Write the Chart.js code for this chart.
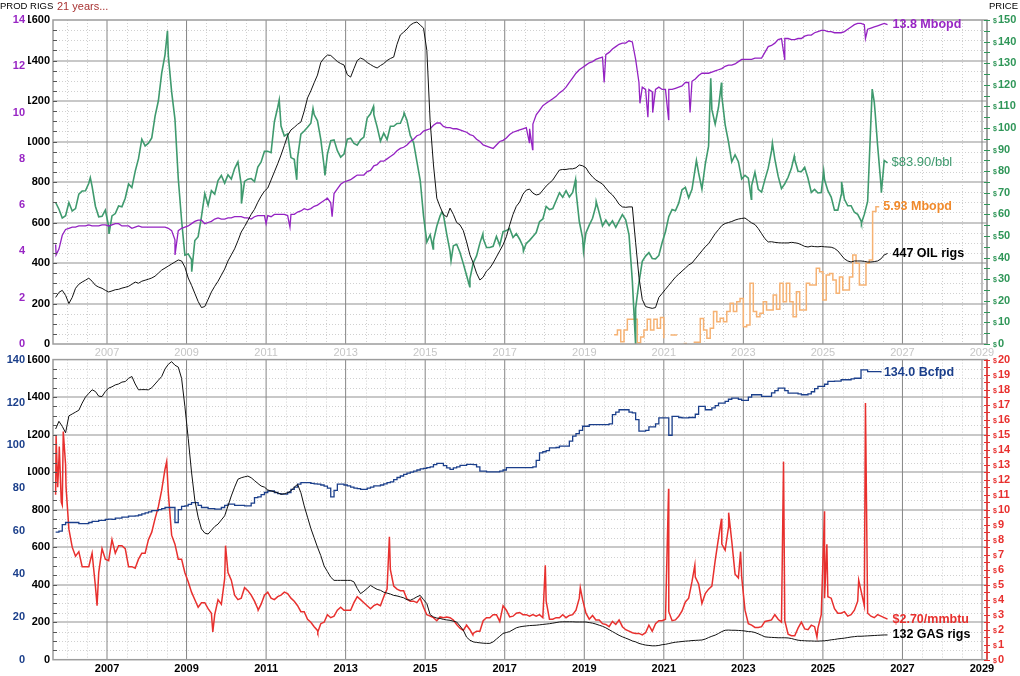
<!DOCTYPE html>
<html>
<head>
<meta charset="utf-8">
<script src="https://cdn.jsdelivr.net/npm/chart.js@4.4.1/dist/chart.umd.min.js"></script>
<style>
  body { margin: 0; background: #fff; }
  #wrap { position: relative; width: 1020px; height: 676px; overflow: hidden; font-family: "Liberation Sans", Arial, sans-serif; }
  #wrap canvas { position: absolute; left: 0; }
  #cTop { top: 0; }
  #cBot { top: 350px; }
  .hdr { position: absolute; top: 0; font-size: 9.5px; line-height: 12px; color: #000; }
</style>
</head>
<body>
<div id="wrap">
  <canvas id="cTop" width="1020" height="358" style="width:1020px;height:358px"></canvas>
  <canvas id="cBot" width="1020" height="326" style="width:1020px;height:326px"></canvas>
  <div class="hdr" style="left:0">PROD RIGS</div>
  <div class="hdr" style="left:57px;font-size:11px;color:#a83232">21 years...</div>
  <div class="hdr" style="right:2px">PRICE</div>
</div>
<script>
// ---- axis ticks ----
const yearTicks = [2007, 2009, 2011, 2013, 2015, 2017, 2019, 2021, 2023, 2025, 2027, 2029];
const rigTicks = [0, 200, 400, 600, 800, 1000, 1200, 1400, 1600];
const oilProdTicks = [0, 2, 4, 6, 8, 10, 12, 14];
const gasProdTicks = [0, 20, 40, 60, 80, 100, 120, 140];
const oilPriceTicks = [0, 10, 20, 30, 40, 50, 60, 70, 80, 90, 100, 110, 120, 130, 140, 150];
const gasPriceTicks = [0, 1, 2, 3, 4, 5, 6, 7, 8, 9, 10, 11, 12, 13, 14, 15, 16, 17, 18, 19, 20];

// ---- monthly series, Sep 2005 onward (one row per year) ----
const oilPrice = [65.5, 62.4, 58.3, 59.4,
  65.5, 61.6, 62.7, 69.4, 70.8, 70.9, 74.4, 73.0, 63.8, 58.9, 59.1, 62.0,
  54.5, 59.3, 60.4, 63.9, 63.5, 67.5, 74.1, 72.4, 79.9, 85.8, 94.8, 91.7,
  93.0, 95.4, 105.5, 112.6, 125.4, 133.9, 133.4, 116.7, 104.1, 76.6, 57.3, 41.1,
  41.7, 39.1, 47.9, 49.7, 59.0, 69.6, 64.2, 71.0, 69.4, 75.7, 78.0, 74.5,
  78.3, 76.4, 81.2, 84.3, 73.7, 75.3, 76.3, 76.6, 75.2, 81.9, 84.3, 89.2,
  89.2, 88.6, 102.9, 109.5, 100.9, 96.3, 97.3, 86.3, 85.5, 86.3, 97.2, 98.6,
  100.3, 102.2, 106.2, 103.3, 94.7, 82.3, 87.9, 94.1, 94.5, 89.5, 86.5, 87.9,
  94.8, 95.3, 92.9, 92.0, 94.5, 95.8, 104.6, 106.6, 106.3, 100.5, 93.9, 97.6,
  94.6, 100.8, 100.8, 102.1, 102.2, 105.8, 103.6, 96.5, 93.2, 84.4, 75.8, 59.3,
  47.2, 50.6, 47.8, 54.5, 59.3, 59.8, 50.9, 42.9, 45.5, 46.2, 42.4, 37.2,
  31.7, 30.3, 37.5, 40.8, 46.7, 48.8, 44.7, 44.7, 45.2, 49.8, 45.7, 52.0,
  52.5, 53.5, 49.3, 51.1, 48.5, 45.2, 46.6, 48.0, 49.8, 51.6, 56.6, 57.9,
  63.7, 62.2, 62.7, 66.3, 70.0, 67.9, 71.0, 68.1, 70.2, 70.8, 56.7, 49.0,
  51.4, 55.0, 58.2, 63.9, 60.8, 54.7, 57.4, 54.8, 57.0, 54.0, 57.0, 59.9,
  57.5, 50.5, 29.2, 16.6, 28.5, 38.3, 40.7, 42.3, 39.6, 39.4, 41.0, 47.0,
  52.0, 59.0, 62.3, 61.7, 65.2, 71.4, 72.5, 67.7, 71.6, 81.5, 79.2, 71.7,
  83.2, 91.6, 108.5, 101.8, 109.6, 114.8, 101.6, 93.7, 84.3, 87.6, 84.4, 76.4,
  78.1, 76.8, 73.3, 79.5, 71.6, 70.3, 76.1, 81.4, 89.4, 85.6, 77.7, 71.9,
  74.2, 77.2, 81.3, 85.4, 80.0, 79.8, 81.8, 76.7, 70.2, 71.6, 69.9, 70.1,
  76, 71, 68, 62, 62, 69, 67, 64, 64, 61, 60, 57,
  60, 66, 104, 112, 92, 74, 85, 83.9];
// intra-month highs / lows visible in the daily trace [year, $]
const oilPriceExtremes = [[2006.58, 77], [2007.05, 51], [2008.52, 145], [2009.13, 33.5], [2010.38, 65],
  [2011.33, 113], [2011.77, 76], [2012.18, 109], [2012.48, 78], [2013.7, 110], [2014.47, 107],
  [2015.2, 44], [2015.42, 61], [2015.65, 38.5], [2016.12, 26.5], [2016.45, 51], [2017.47, 43],
  [2018.78, 76], [2018.98, 43], [2019.3, 66], [2020.29, 0], [2021.82, 85], [2022.18, 123],
  [2022.45, 121], [2023.2, 67], [2023.73, 93], [2024.28, 87], [2025.02, 80], [2025.47, 75],
  [2025.97, 56], [2026.24, 118], [2026.31, 108], [2026.47, 70]];

const oilProd = [4.3, 4.1, 4.7, 4.95,
  5.0, 5.05, 5.05, 5.1, 5.1, 5.1, 5.15, 5.1, 5.1, 5.1, 5.15, 5.15,
  5.1, 5.15, 5.2, 5.2, 5.1, 5.1, 5.1, 5.0, 5.05, 5.1, 5.05, 5.05,
  5.05, 5.05, 5.05, 5.05, 5.05, 5.05, 5.0, 4.9, 4.5, 4.9, 5.0, 5.05,
  5.1, 5.2, 5.3, 5.35, 5.35, 5.2, 5.25, 5.3, 5.4, 5.45, 5.4, 5.4,
  5.45, 5.45, 5.5, 5.5, 5.5, 5.45, 5.45, 5.4, 5.5, 5.55, 5.55, 5.55,
  5.55, 5.5, 5.6, 5.6, 5.6, 5.6, 5.55, 5.6, 5.6, 5.7, 5.75, 5.85,
  5.8, 5.85, 5.95, 6.0, 6.1, 6.2, 6.3, 6.1, 6.5, 6.7, 6.9, 7.0,
  7.05, 7.1, 7.2, 7.3, 7.3, 7.3, 7.45, 7.5, 7.7, 7.75, 7.9, 7.9,
  8.0, 8.1, 8.2, 8.35, 8.45, 8.5, 8.6, 8.75, 8.85, 9.0, 9.05, 9.2,
  9.25, 9.3, 9.45, 9.55, 9.55, 9.4, 9.35, 9.35, 9.3, 9.3, 9.25, 9.2,
  9.15, 9.05, 9.0, 8.85, 8.75, 8.6, 8.55, 8.5, 8.45, 8.6, 8.75, 8.8,
  8.9, 9.05, 9.15, 9.2, 9.25, 9.3, 9.35, 9.3, 9.5, 9.9, 10.1, 10.3,
  10.4, 10.5, 10.6, 10.7, 10.85, 10.95, 11.1, 11.3, 11.5, 11.7, 11.85, 11.95,
  12.05, 12.15, 12.2, 12.3, 12.35, 12.4, 12.5, 12.6, 12.75, 12.85, 12.95, 13.0,
  13.0, 13.1, 13.05, 12.3, 11.3, 11.1, 11.0, 11.0, 10.9, 11.0, 11.1, 11.0,
  11.0, 11.0, 11.0, 11.05, 11.1, 11.15, 11.3, 11.3, 11.35, 11.45, 11.6, 11.7,
  11.7, 11.7, 11.75, 11.8, 11.85, 11.9, 12.0, 12.05, 12.05, 12.1, 12.2, 12.3,
  12.3, 12.3, 12.3, 12.35, 12.35, 12.35, 12.6, 12.85, 12.9, 13.0, 13.15, 13.2,
  13.2, 13.2, 13.15, 13.15, 13.2, 13.2, 13.3, 13.35, 13.35, 13.45, 13.5, 13.55,
  13.55, 13.5, 13.5, 13.45, 13.45, 13.45, 13.5, 13.6, 13.7, 13.8, 13.85, 13.85,
  13.8, 13.6, 13.65, 13.7, 13.75, 13.8, 13.85, 13.8];
// weekly outages (storms, freezes) [year, Mbopd]
const oilProdDips = [[2005.72, 3.85], [2008.71, 3.85], [2011.0, 5.2], [2011.6, 5.05], [2012.66, 5.5],
  [2017.62, 8.7], [2017.7, 8.4], [2019.5, 11.3], [2020.4, 10.4], [2020.6, 9.8], [2020.72, 10.0],
  [2021.12, 9.7], [2021.66, 10.0], [2024.04, 12.3], [2026.07, 13.2]];

const oilRigs = [230, 255, 265, 240,
  200, 230, 275, 295, 306, 315, 325, 310, 290, 281, 275, 265,
  257, 262, 268, 270, 276, 280, 285, 295, 306, 300, 310, 315,
  320, 326, 335, 350, 365, 375, 385, 395, 405, 415, 410, 380,
  326, 290, 250, 210, 180, 185, 220, 257, 285, 310, 340, 370,
  410, 440, 470, 510, 553, 580, 610, 640, 665, 700, 730, 755,
  770, 810, 850, 890, 933, 980, 1030, 1057, 1070, 1085, 1096, 1150,
  1215, 1250, 1290, 1328, 1390, 1412, 1427, 1425, 1410, 1395, 1385, 1378,
  1330, 1318, 1360, 1400, 1412, 1405, 1390, 1380, 1370, 1363, 1375, 1385,
  1400, 1410, 1417, 1480, 1526, 1540, 1555, 1575, 1585, 1590, 1575, 1560,
  1450, 1100, 884, 720, 677, 640, 627, 671, 640, 600, 588, 560,
  504, 440, 400, 350, 316, 330, 360, 375, 400, 430, 460, 490,
  530, 588, 640, 680, 701, 740, 760, 765, 745, 736, 740, 760,
  780, 795, 810, 835, 859, 862, 862, 865, 865, 870, 884, 880,
  870, 844, 825, 810, 800, 790, 770, 750, 736, 715, 690, 677,
  675, 677, 677, 500, 330, 220, 185, 180, 176, 180, 230, 250,
  270, 290, 310, 330, 345, 360, 375, 390, 400, 420, 440, 460,
  480, 495, 520, 545, 565, 585, 595, 600, 605, 612, 617, 620,
  622, 610, 598, 590, 570, 545, 520, 504, 505, 502, 500, 499,
  499, 499, 502, 500, 497, 490, 482, 479, 483, 481, 480, 482,
  480, 479, 478, 472, 460, 440, 420, 410, 405, 410, 410, 410,
  408, 405, 405, 407, 410, 420, 440, 447];

// orange stepped series, monthly from Oct 2019 (Mbopd, left scale)
const orangeProd = [0.4, 0.6, 0.1, 0.6, 1.07, 1.07, 1.07, 0.05, 0.3, 0.6,
  1.07, 0.6, 1.07, 0.68, 1.14, 0.25, null, 0.39, 0.39, 0.39,
  null, 0.02, 0.02, null, 0.08, 0.08, 1.1, 0.6, 0.25, 0.68,
  1.4, 0.96, 1.11, 0.96, 1.4, 1.76, 1.4, 1.83, 1.97, 0.75,
  0.82, 2.62, 1.4, 1.18, 1.33, 1.83, 1.47, 1.47, 2.12, 1.5,
  2.62, 1.83, 2.62, 1.83, 1.18, 2.26, 1.47, 1.47, 2.62, 2.55,
  2.55, 3.27, 3.12, 1.9, 2.98, 3.05, 2.77, 2.19, 2.9, 2.33,
  2.33, 2.9, 3.85, 3.49, 2.55, 2.55, 3.49, 3.63, 5.72, 5.93, 5.93];

const gasRigs = [1230, 1271, 1244, 1210,
  1300, 1310, 1320, 1330, 1368, 1400, 1420, 1439, 1430, 1405, 1403, 1430,
  1448, 1455, 1465, 1470, 1480, 1483, 1500, 1510, 1470, 1439, 1440, 1440,
  1439, 1450, 1470, 1490, 1510, 1550, 1575, 1589, 1570, 1560, 1500, 1350,
  1180, 1000, 850, 760, 697, 675, 670, 690, 710, 723, 745, 767,
  820, 873, 920, 962, 970, 975, 979, 970, 955, 940, 926, 920,
  905, 900, 895, 890, 882, 885, 890, 900, 920, 935, 890, 820,
  760, 700, 650, 600, 555, 500, 470, 440, 423, 423, 423, 423,
  423, 423, 415, 380, 352, 365, 380, 396, 385, 375, 370, 360,
  355, 350, 343, 340, 335, 330, 320, 317, 325, 335, 343, 320,
  299, 240, 228, 222, 220, 215, 212, 210, 205, 201, 180, 157,
  120, 104, 95, 92, 90, 88, 87, 87, 95, 110, 125, 140,
  145, 150, 160, 170, 175, 178, 180, 182, 183, 184, 186, 188,
  190, 192, 195, 198, 201, 202, 202, 202, 202, 201, 201, 201,
  201, 198, 195, 190, 184, 178, 170, 160, 150, 140, 130, 122,
  115, 108, 100, 95, 87, 82, 78, 76, 74, 74, 76, 80,
  82, 86, 90, 93, 95, 97, 99, 100, 102, 103, 104, 105,
  110, 118, 125, 131, 140, 150, 157, 158, 157, 157, 156, 155,
  153, 150, 149, 145, 138, 130, 122, 120, 119, 118, 117, 117,
  117, 116, 113, 108, 104, 102, 101, 100, 100, 99, 99, 100,
  101, 103, 106, 108, 111, 113, 115, 118, 121, 123, 125, 125,
  126, 127, 128, 129, 130, 131, 132, 132];

const gasPrice = [11.0, 13.4, 10.3, 13.0,
  8.7, 7.5, 6.9, 7.2, 6.2, 6.2, 6.2, 7.1, 4.9, 5.8, 7.4, 6.7,
  6.6, 8.0, 7.1, 7.6, 7.6, 7.4, 6.2, 6.2, 6.1, 6.7, 7.1, 7.1,
  8.0, 8.5, 9.4, 10.2, 11.3, 12.7, 11.1, 8.3, 7.7, 6.7, 6.7, 5.8,
  5.2, 4.5, 4.0, 3.5, 3.8, 3.8, 3.4, 3.1, 3.0, 4.0, 3.7, 5.4,
  5.8, 5.3, 4.3, 4.0, 4.1, 4.8, 4.6, 4.3, 3.9, 3.4, 3.7, 4.3,
  4.5, 4.1, 4.0, 4.2, 4.3, 4.5, 4.4, 4.1, 3.9, 3.6, 3.2, 3.2,
  2.7, 2.5, 2.2, 1.95, 2.4, 2.5, 3.0, 2.8, 2.9, 3.3, 3.5, 3.3,
  3.3, 3.3, 3.8, 4.2, 4.0, 3.8, 3.6, 3.4, 3.6, 3.7, 3.6, 4.2,
  4.7, 6.0, 4.9, 4.7, 4.6, 4.6, 4.05, 3.9, 3.9, 3.8, 4.1, 3.5,
  3.0, 2.9, 2.8, 2.6, 2.85, 2.8, 2.85, 2.8, 2.65, 2.35, 2.1, 1.95,
  2.3, 2.0, 1.75, 1.9, 1.9, 2.6, 2.8, 2.8, 3.0, 3.0, 2.55, 3.6,
  3.3, 2.85, 2.9, 3.1, 3.15, 3.0, 3.0, 2.9, 3.0, 2.9, 3.0, 2.8,
  3.9, 2.7, 2.7, 2.8, 2.8, 3.0, 2.8, 2.95, 3.0, 3.3, 4.1, 4.0,
  3.1, 2.7, 2.95, 2.65, 2.65, 2.4, 2.35, 2.2, 2.55, 2.35, 2.65, 2.2,
  2.0, 1.9, 1.8, 1.75, 1.75, 1.65, 1.8, 2.3, 1.9, 2.4, 2.6, 2.6,
  2.7, 3.2, 2.6, 2.65, 2.9, 3.25, 3.85, 4.1, 5.2, 5.5, 5.05, 3.75,
  4.4, 4.7, 4.9, 6.6, 8.1, 7.7, 7.3, 8.8, 7.9, 5.7, 5.45, 5.5,
  3.3, 2.4, 2.3, 2.15, 2.15, 2.2, 2.55, 2.6, 2.65, 3.0, 2.7, 2.5,
  2.6, 1.7, 1.6, 1.6, 2.1, 2.5, 2.05, 2.0, 2.3, 2.2, 2.1, 3.0,
  4.1, 4.2, 4.1, 3.4, 3.1, 3.1, 3.2, 2.9, 3.0, 3.3, 3.9, 4.6,
  3.6, 3.1, 2.9, 2.8, 3.0, 2.9, 2.8, 2.7];
// daily spikes and lows [year, $/mmbtu]
const gasPriceExtremes = [[2005.72, 14.9], [2005.76, 11.5], [2005.8, 14.2], [2005.85, 10.5], [2005.9, 15.2],
  [2005.97, 11.5], [2006.75, 3.6], [2008.5, 13.2], [2009.66, 1.85], [2009.98, 7.6], [2010.8, 3.3],
  [2012.3, 1.85], [2014.1, 8.2], [2016.2, 1.65], [2018.02, 6.3], [2018.9, 4.8], [2021.12, 11.4],
  [2021.78, 6.3], [2022.45, 9.4], [2022.63, 9.8], [2022.93, 7.2], [2024.01, 13.2], [2024.85, 1.5],
  [2025.04, 9.9], [2025.1, 7.7], [2025.9, 5.3], [2026.07, 17.1]];

const gasProd = [59.5, 60, 63, 64,
  64, 64, 64, 63.5, 63.5, 63.5, 64, 64.5, 64.5, 65, 65, 65.5,
  65.6, 65.5, 66, 66, 66.5, 66.5, 67, 67, 67.1, 67.5, 68, 68.5,
  69, 69.5, 69.5, 70, 70.5, 71, 71, 71, 64, 70, 71.5, 71.8,
  72.5, 73.3, 73.3, 72, 71, 71, 70.5, 70.5, 70.2, 70.2, 71, 72,
  72.6, 72.6, 72, 72, 72, 71.8, 71.8, 73, 75.6, 76, 77, 78,
  78.7, 78.7, 78, 77.5, 77.2, 77.2, 78, 79.5, 80.5, 81.9, 82.6, 82.6,
  82.6, 82.3, 82, 81.9, 81.5, 81, 80, 76, 79, 81.9, 81.9, 81.5,
  81.1, 80.5, 80, 79.8, 79.5, 79.5, 80, 80.5, 81.1, 81.1, 81.5, 82,
  82.6, 83, 84, 85, 85.7, 86.5, 87, 87.5, 88, 88.5, 89, 89.3,
  89.6, 90, 91, 91.6, 91.6, 90.5, 89.5, 88.8, 89.5, 90, 90.7, 90.7,
  91.1, 91.1, 91, 90, 88, 88, 87.6, 87.6, 87.6, 87.6, 88, 88.5,
  89.6, 89.6, 89.6, 89.6, 89.6, 89.6, 89.6, 89.6, 90, 93, 96.5, 97,
  97.5, 98.8, 98.8, 99, 99.6, 99.6, 99.6, 102, 104.3, 105.5, 107, 108.9,
  108.9, 109.7, 109.7, 109.7, 109.7, 109.7, 109.7, 110, 114.3, 115.5, 116.6, 116.6,
  116.6, 115.5, 115.1, 112, 106.6, 106.6, 107, 108.6, 108.6, 110, 112.8, 112.8,
  112.8, 104.7, 113.5, 113.5, 113, 112.8, 112.8, 113, 113, 114.5, 118.2, 118.2,
  116.6, 116.6, 117.5, 118.5, 119.7, 119.7, 120.5, 121.5, 122, 122, 121.5, 121,
  121, 122.5, 123.6, 123.6, 123.6, 122.8, 122.8, 122.8, 124.5, 125.5, 126.7, 126.7,
  125.5, 124.4, 124.4, 124.4, 124, 123.6, 123.6, 124, 125, 126.5, 127.5, 127.5,
  128.5, 129.8, 129.8, 130, 130, 130.6, 130.6, 130.6, 131, 131.3, 131.3, 135.2,
  135.2, 134.4, 134.4, 134.4, 134.4, 134.0];

// ---- end-of-line labels ----
const lblOilProd = '13.8 Mbopd';
const lblOilPrice = '$83.90/bbl';
const lblOrange = '5.93 Mbopd';
const lblOilRigs = '447 OIL rigs';
const lblGasProd = '134.0 Bcfpd';
const lblGasPrice = '$2.70/mmbtu';
const lblGasRigs = '132 GAS rigs';

// ---- time base ----
const X_MIN = 2005.642, X_MAX = 2029.126;
const MONTHLY_START = 2005 + 8.5 / 12;   // mid Sep 2005
const ORANGE_START = 2019.75;

function monthly(first, values) {
  return values.map((v, i) => ({ x: first + i / 12, y: v }));
}
function withExtremes(points, extra) {
  return points.concat(extra.map(([x, y]) => ({ x, y }))).sort((a, b) => a.x - b.x);
}

Chart.defaults.font.family = '"Liberation Sans", Arial, sans-serif';

// grid, frame, side ticks and price labels drawn from the chart scales
const panelGrid = {
  id: 'panelGrid',
  beforeDatasetsDraw(chart, args, o) {
    const { ctx, chartArea: a, scales } = chart;
    const xs = scales.x, ys = scales[o.rigs];
    ctx.save();
    ctx.lineWidth = 1;
    ctx.strokeStyle = '#d0d0d0';
    ctx.setLineDash([1, 2]);
    ctx.beginPath();
    for (let t = 2006; t < X_MAX; t += 0.5) {
      if (t % 2 === 1) continue;
      const px = Math.round(xs.getPixelForValue(t)) + 0.5;
      ctx.moveTo(px, a.top); ctx.lineTo(px, a.bottom);
    }
    for (let r = 50; r < 1600; r += 50) {
      if (r % 200 === 0) continue;
      const py = Math.round(ys.getPixelForValue(r)) + 0.5;
      ctx.moveTo(a.left, py); ctx.lineTo(a.right, py);
    }
    ctx.stroke();
    ctx.setLineDash([]);
    ctx.strokeStyle = '#c8c8c8';
    ctx.lineWidth = 2;
    ctx.beginPath();
    rigTicks.slice(1, -1).forEach(r => {
      const py = Math.round(ys.getPixelForValue(r));
      ctx.moveTo(a.left, py); ctx.lineTo(a.right, py);
    });
    ctx.stroke();
    ctx.strokeStyle = '#858585';
    ctx.lineWidth = 1;
    ctx.beginPath();
    yearTicks.forEach(t => {
      const px = xs.getPixelForValue(t);
      if (px >= a.right) return;
      ctx.moveTo(px, a.top); ctx.lineTo(px, a.bottom);
    });
    ctx.stroke();
    ctx.restore();
  },
  afterDatasetsDraw(chart, args, o) {
    const { ctx, chartArea: a, scales } = chart;
    const ys = scales[o.rigs], yp = scales[o.price];
    ctx.save();
    ctx.strokeStyle = '#9c9c9c';
    ctx.lineWidth = 1.5;
    ctx.strokeRect(a.left, a.top, a.right - a.left, a.bottom - a.top);
    ctx.strokeStyle = o.rightBorder;
    ctx.beginPath(); ctx.moveTo(a.right, a.top); ctx.lineTo(a.right, a.bottom); ctx.stroke();
    ctx.lineWidth = 1;
    ctx.strokeStyle = '#555';
    ctx.beginPath();
    for (let r = 50; r < 1600; r += 50) {
      const py = Math.round(ys.getPixelForValue(r)) + 0.5;
      ctx.moveTo(a.left, py); ctx.lineTo(a.left + 4, py);
    }
    ctx.stroke();
    const top = o.ticks[o.ticks.length - 1];
    ctx.strokeStyle = o.color;
    ctx.beginPath();
    for (let v = 0; v <= top; v += o.minor) {
      const py = Math.round(yp.getPixelForValue(v)) + 0.5;
      ctx.moveTo(a.right - 3, py); ctx.lineTo(a.right + 3, py);
    }
    ctx.stroke();
    ctx.fillStyle = o.color;
    ctx.textBaseline = 'middle';
    ctx.textAlign = 'left';
    o.ticks.forEach(v => {
      const py = yp.getPixelForValue(v);
      ctx.font = 'bold 7px "Liberation Sans"';
      ctx.fillText('$', a.right + 6, py + 1);
      ctx.font = 'bold 11px "Liberation Sans"';
      ctx.fillText(String(v), a.right + 11, py);
    });
    ctx.restore();
  }
};

const endLabels = {
  id: 'endLabels',
  afterDatasetsDraw(chart) {
    const ctx = chart.ctx;
    chart.data.datasets.forEach((ds, i) => {
      if (!ds.endLabel) return;
      const pts = chart.getDatasetMeta(i).data;
      const last = pts[pts.length - 1];
      ctx.save();
      ctx.font = ds.endLabel.font;
      ctx.fillStyle = ds.endLabel.color;
      ctx.textBaseline = 'middle';
      ctx.textAlign = 'left';
      ctx.fillText(ds.endLabel.text, last.x + ds.endLabel.dx, last.y);
      ctx.restore();
    });
  }
};

function xAxis(color, font, height, padding) {
  return {
    type: 'linear', min: X_MIN, max: X_MAX,
    afterBuildTicks: s => { s.ticks = yearTicks.map(v => ({ value: v })); },
    afterFit: s => { s.height = height; },
    grid: { display: false, drawTicks: false },
    border: { display: false },
    ticks: { color, font, padding, maxRotation: 0, autoSkip: false, callback: v => String(v) }
  };
}
function leftAxis(ticks, min, max, color, width, padding, weight) {
  return {
    position: 'left', min, max, weight,
    afterBuildTicks: s => { s.ticks = ticks.map(v => ({ value: v })); },
    afterFit: s => { s.width = width; },
    grid: { display: false, drawTicks: false },
    border: { display: false },
    ticks: { color, font: { size: 11, weight: 'bold' }, padding, callback: v => String(v) }
  };
}
const lineBase = { pointRadius: 0, tension: 0, fill: false, spanGaps: false };
const LABEL_FONT = 'bold 12.5px "Liberation Sans"';

new Chart(document.getElementById('cTop'), {
  type: 'line',
  data: {
    datasets: [
      { ...lineBase, data: monthly(MONTHLY_START, oilRigs), yAxisID: 'yRigs', borderColor: '#111', borderWidth: 1,
        endLabel: { text: lblOilRigs, color: '#000', font: LABEL_FONT, dx: 5 } },
      { ...lineBase, data: withExtremes(monthly(MONTHLY_START, oilProd), oilProdDips), yAxisID: 'yProd',
        borderColor: '#9422c2', borderWidth: 1.3,
        endLabel: { text: lblOilProd, color: '#9826c4', font: LABEL_FONT, dx: 5 } },
      { ...lineBase, data: withExtremes(monthly(MONTHLY_START, oilPrice), oilPriceExtremes), yAxisID: 'yPrice',
        borderColor: '#3f9a6e', borderWidth: 1.6,
        endLabel: { text: lblOilPrice, color: '#3f9a6e', font: '13px "Liberation Sans"', dx: 4 } },
      { ...lineBase, data: monthly(ORANGE_START, orangeProd), yAxisID: 'yProd', stepped: true,
        borderColor: '#f6b273', borderWidth: 1.5,
        endLabel: { text: lblOrange, color: '#f08a2c', font: LABEL_FONT, dx: 4 } }
    ]
  },
  options: {
    responsive: false, animation: false, events: [],
    layout: { padding: { top: 20, right: 33, left: 0, bottom: 0 } },
    plugins: {
      legend: { display: false }, tooltip: { enabled: false },
      panelGrid: { rigs: 'yRigs', price: 'yPrice', ticks: oilPriceTicks, minor: 5, color: '#2f9658', rightBorder: '#9c9c9c' }
    },
    scales: {
      x: xAxis('#c6c6c6', { size: 11 }, 14, 2),
      yProd: leftAxis(oilProdTicks, 0, 14, '#9826c4', 28, 3, 1),
      yRigs: leftAxis(rigTicks, 0, 1600, '#000', 25, 3, 0),
      yPrice: { display: false, position: 'right', min: 0, max: 150 }
    }
  },
  plugins: [panelGrid, endLabels]
});

new Chart(document.getElementById('cBot'), {
  type: 'line',
  data: {
    datasets: [
      { ...lineBase, data: monthly(MONTHLY_START, gasRigs), yAxisID: 'yRigs', borderColor: '#111', borderWidth: 1,
        endLabel: { text: lblGasRigs, color: '#000', font: LABEL_FONT, dx: 5 } },
      { ...lineBase, data: monthly(MONTHLY_START, gasProd), yAxisID: 'yProd', stepped: true,
        borderColor: '#1b3f8b', borderWidth: 1.3,
        endLabel: { text: lblGasProd, color: '#1b3f8b', font: LABEL_FONT, dx: 3 } },
      { ...lineBase, data: withExtremes(monthly(MONTHLY_START, gasPrice), gasPriceExtremes), yAxisID: 'yPrice',
        borderColor: '#e8302e', borderWidth: 1.5,
        endLabel: { text: lblGasPrice, color: '#e8302e', font: LABEL_FONT, dx: 5 } }
    ]
  },
  options: {
    responsive: false, animation: false, events: [],
    layout: { padding: { top: 8, right: 33, left: 0, bottom: 0 } },
    plugins: {
      legend: { display: false }, tooltip: { enabled: false },
      panelGrid: { rigs: 'yRigs', price: 'yPrice', ticks: gasPriceTicks, minor: 0.5, color: '#e8302e', rightBorder: '#e8302e' }
    },
    scales: {
      x: xAxis('#000', { size: 11, weight: 'bold' }, 16.3, 3),
      yProd: leftAxis(gasProdTicks, 0, 140, '#1b3f8b', 28, 3, 1),
      yRigs: leftAxis(rigTicks, 0, 1600, '#000', 25, 3, 0),
      yPrice: { display: false, position: 'right', min: 0, max: 20 }
    }
  },
  plugins: [panelGrid, endLabels]
});
</script>
</body>
</html>
